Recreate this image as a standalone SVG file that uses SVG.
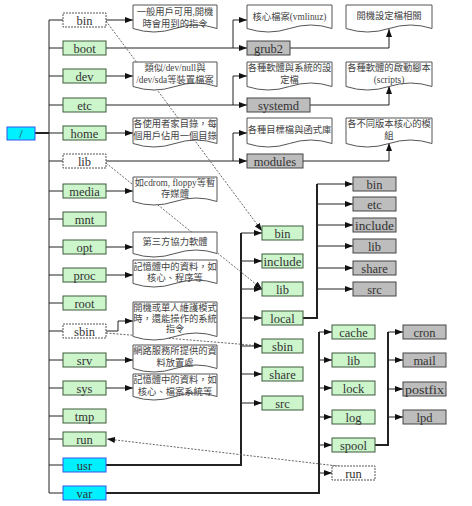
<svg xmlns="http://www.w3.org/2000/svg" width="472" height="506" viewBox="0 0 472 506">
<style>
.g{fill:#ccf5cc;stroke:#3d5a3d;stroke-width:1}
.gr{fill:#bdbdbd;stroke:#444;stroke-width:1}
.cy{fill:#00f0ff;stroke:#3355ee;stroke-width:1}
.dsh{fill:#fff;stroke:#555;stroke-width:1;stroke-dasharray:2 1}
.lbl{font-family:"Liberation Serif",serif;font-size:12.5px;fill:#333;text-anchor:middle}
.doc{fill:#fff;stroke:#555;stroke-width:1}
.dt{font-family:"Liberation Serif","Noto Sans CJK TC",serif;font-size:9.3px;fill:#444;text-anchor:middle}
.c{fill:none;stroke:#222;stroke-width:1}
.a{fill:none;stroke:#222;stroke-width:1;marker-end:url(#ah)}
.th{fill:none;stroke:#222;stroke-width:2}
.dot{fill:none;stroke:#555;stroke-width:0.9;stroke-dasharray:2 1.5;marker-end:url(#ah)}
</style>
<defs>
<marker id="ah" viewBox="0 0 8 6" refX="8" refY="3" markerWidth="8" markerHeight="6" markerUnits="userSpaceOnUse" orient="auto"><path d="M0,0L8,3L0,6z" fill="#111"/></marker>
</defs>
<rect width="472" height="506" fill="#fff"/>
<g id="connectors">
<path class="th" d="M35,133H49"/>
<path class="c" d="M49,20V493"/>
<path class="c" d="M49,20H63M49,48H63M49,76H63M49,105H63M49,133H63M49,161H63M49,191H63M49,219H63M49,247H63M49,275H63M49,303H63M49,331H63M49,360H63M49,388H63M49,416H63M49,439H63M49,465H63M49,493H63"/>
<path class="a" d="M106,20H133"/>
<path class="a" d="M106,76H133"/>
<path class="a" d="M106,133H133"/>
<path class="a" d="M106,191H133"/>
<path class="a" d="M106,247H133"/>
<path class="a" d="M106,275H133"/>
<path class="a" d="M106,331H118V321H133"/>
<path class="a" d="M106,360H133"/>
<path class="a" d="M106,388H133"/>
<path class="a" d="M106,48H247"/>
<path class="a" d="M233,48V20H247"/>
<path class="a" d="M290,48H389V29"/>
<path class="a" d="M106,105H247"/>
<path class="a" d="M233,105V76H247"/>
<path class="a" d="M310,105H389V86"/>
<path class="a" d="M106,161H247"/>
<path class="a" d="M233,161V133H247"/>
<path class="a" d="M303,161H389V143"/>
<path class="th" d="M106,465H241V233"/>
<path class="a" d="M241,233H262"/><path class="a" d="M241,261H262"/><path class="a" d="M241,289H262"/><path class="a" d="M241,318H262"/><path class="a" d="M241,346H262"/><path class="a" d="M241,374H262"/><path class="a" d="M241,403H262"/>
<path class="th" d="M303,318H317V184"/>
<path class="a" d="M317,184H353"/><path class="a" d="M317,204H353"/><path class="a" d="M317,225H353"/><path class="a" d="M317,246H353"/><path class="a" d="M317,268H353"/><path class="a" d="M317,289H353"/>
<path class="th" d="M106,493H319V332"/>
<path class="a" d="M319,332H332"/><path class="a" d="M319,360H332"/><path class="a" d="M319,388H332"/><path class="a" d="M319,417H332"/><path class="a" d="M319,445H332"/><path class="a" d="M319,473H332"/>
<path class="th" d="M375,445H388V332"/>
<path class="a" d="M388,332H403"/><path class="a" d="M388,360H403"/><path class="a" d="M388,389H403"/><path class="a" d="M388,417H403"/>
<path class="dot" d="M106,21L262,231"/>
<path class="dot" d="M106,163L262,289"/>
<path class="dot" d="M106,333L262,346"/>
<path class="dot" d="M346,467L107,439"/>
</g>
<g id="root"><rect class="cy" x="7" y="127" width="28" height="13"/><text class="lbl" x="21" y="138">/</text></g>
<g id="bin"><rect class="dsh" x="63" y="13" width="43" height="14"/><text class="lbl" x="84.5" y="24.5">bin</text></g>
<g id="boot"><rect class="g" x="63" y="41" width="43" height="14"/><text class="lbl" x="84.5" y="52.5">boot</text></g>
<g id="dev"><rect class="g" x="63" y="69" width="43" height="14"/><text class="lbl" x="84.5" y="80.5">dev</text></g>
<g id="etc"><rect class="g" x="63" y="98" width="43" height="14"/><text class="lbl" x="84.5" y="109.5">etc</text></g>
<g id="home"><rect class="g" x="63" y="126" width="43" height="14"/><text class="lbl" x="84.5" y="137.5">home</text></g>
<g id="lib"><rect class="dsh" x="63" y="154" width="43" height="14"/><text class="lbl" x="84.5" y="165.5">lib</text></g>
<g id="media"><rect class="g" x="63" y="184" width="43" height="14"/><text class="lbl" x="84.5" y="195.5">media</text></g>
<g id="mnt"><rect class="g" x="63" y="212" width="43" height="14"/><text class="lbl" x="84.5" y="223.5">mnt</text></g>
<g id="opt"><rect class="g" x="63" y="240" width="43" height="14"/><text class="lbl" x="84.5" y="251.5">opt</text></g>
<g id="proc"><rect class="g" x="63" y="268" width="43" height="14"/><text class="lbl" x="84.5" y="279.5">proc</text></g>
<g id="rootdir"><rect class="g" x="63" y="296" width="43" height="14"/><text class="lbl" x="84.5" y="307.5">root</text></g>
<g id="sbin"><rect class="dsh" x="63" y="324" width="43" height="14"/><text class="lbl" x="84.5" y="335.5">sbin</text></g>
<g id="srv"><rect class="g" x="63" y="353" width="43" height="14"/><text class="lbl" x="84.5" y="364.5">srv</text></g>
<g id="sys"><rect class="g" x="63" y="381" width="43" height="14"/><text class="lbl" x="84.5" y="392.5">sys</text></g>
<g id="tmp"><rect class="g" x="63" y="409" width="43" height="14"/><text class="lbl" x="84.5" y="420.5">tmp</text></g>
<g id="run"><rect class="g" x="63" y="432" width="43" height="14"/><text class="lbl" x="84.5" y="443.5">run</text></g>
<g id="usr"><rect class="cy" x="63" y="458" width="43" height="14"/><text class="lbl" x="84.5" y="469.5">usr</text></g>
<g id="var"><rect class="cy" x="63" y="486" width="43" height="14"/><text class="lbl" x="84.5" y="497.5">var</text></g>
<g id="grub2"><rect class="gr" x="247" y="41" width="43" height="14"/><text class="lbl" x="268.5" y="52.5">grub2</text></g>
<g id="systemd"><rect class="gr" x="247" y="98" width="63" height="14"/><text class="lbl" x="278.5" y="109.5">systemd</text></g>
<g id="modules"><rect class="gr" x="247" y="154" width="56" height="14"/><text class="lbl" x="275" y="165.5">modules</text></g>
<g id="usr-bin"><rect class="g" x="262" y="226" width="41" height="14"/><text class="lbl" x="282.5" y="237.5">bin</text></g>
<g id="usr-include"><rect class="g" x="262" y="254" width="41" height="14"/><text class="lbl" x="282.5" y="265.5" textLength="38" lengthAdjust="spacingAndGlyphs">include</text></g>
<g id="usr-lib"><rect class="g" x="262" y="282" width="41" height="14"/><text class="lbl" x="282.5" y="293.5">lib</text></g>
<g id="usr-local"><rect class="g" x="262" y="311" width="41" height="14"/><text class="lbl" x="282.5" y="322.5">local</text></g>
<g id="usr-sbin"><rect class="g" x="262" y="339" width="41" height="14"/><text class="lbl" x="282.5" y="350.5">sbin</text></g>
<g id="usr-share"><rect class="g" x="262" y="367" width="41" height="14"/><text class="lbl" x="282.5" y="378.5">share</text></g>
<g id="usr-src"><rect class="g" x="262" y="396" width="41" height="14"/><text class="lbl" x="282.5" y="407.5">src</text></g>
<g id="local-bin"><rect class="gr" x="353" y="177" width="43" height="14"/><text class="lbl" x="374.5" y="188.5">bin</text></g>
<g id="local-etc"><rect class="gr" x="353" y="197" width="43" height="14"/><text class="lbl" x="374.5" y="208.5">etc</text></g>
<g id="local-include"><rect class="gr" x="353" y="218" width="43" height="14"/><text class="lbl" x="374.5" y="229.5" textLength="39" lengthAdjust="spacingAndGlyphs">include</text></g>
<g id="local-lib"><rect class="gr" x="353" y="239" width="43" height="14"/><text class="lbl" x="374.5" y="250.5">lib</text></g>
<g id="local-share"><rect class="gr" x="353" y="261" width="43" height="14"/><text class="lbl" x="374.5" y="272.5">share</text></g>
<g id="local-src"><rect class="gr" x="353" y="282" width="43" height="14"/><text class="lbl" x="374.5" y="293.5">src</text></g>
<g id="var-cache"><rect class="g" x="332" y="325" width="43" height="14"/><text class="lbl" x="353.5" y="336.5">cache</text></g>
<g id="var-lib"><rect class="g" x="332" y="353" width="43" height="14"/><text class="lbl" x="353.5" y="364.5">lib</text></g>
<g id="var-lock"><rect class="g" x="332" y="381" width="43" height="14"/><text class="lbl" x="353.5" y="392.5">lock</text></g>
<g id="var-log"><rect class="g" x="332" y="410" width="43" height="14"/><text class="lbl" x="353.5" y="421.5">log</text></g>
<g id="var-spool"><rect class="g" x="332" y="438" width="43" height="14"/><text class="lbl" x="353.5" y="449.5">spool</text></g>
<g id="var-run"><rect class="dsh" x="332" y="466" width="43" height="14"/><text class="lbl" x="353.5" y="477.5">run</text></g>
<g id="spool-cron"><rect class="gr" x="403" y="325" width="43" height="14"/><text class="lbl" x="424.5" y="336.5">cron</text></g>
<g id="spool-mail"><rect class="gr" x="403" y="353" width="43" height="14"/><text class="lbl" x="424.5" y="364.5">mail</text></g>
<g id="spool-postfix"><rect class="gr" x="403" y="382" width="43" height="14"/><text class="lbl" x="424.5" y="393.5" textLength="39" lengthAdjust="spacingAndGlyphs">postfix</text></g>
<g id="spool-lpd"><rect class="gr" x="403" y="410" width="43" height="14"/><text class="lbl" x="424.5" y="421.5">lpd</text></g>
<g id="doc-bin"><path class="doc" d="M133,5H217V28.5Q196,21.5 175,28.5T133,28.5Z"/><text class="dt" x="175" y="15">一般用戶可用,開機</text><text class="dt" x="175" y="27">時會用到的指令</text></g>
<g id="doc-dev"><path class="doc" d="M133,62H217V86.5Q196,79.5 175,86.5T133,86.5Z"/><text class="dt" x="175" y="71">類似/dev/null與</text><text class="dt" x="175" y="83">/dev/sda等裝置檔案</text></g>
<g id="doc-home"><path class="doc" d="M133,118H217V143.5Q196,136.5 175,143.5T133,143.5Z"/><text class="dt" x="175" y="127">各使用者家目錄，每</text><text class="dt" x="175" y="139">個用戶佔用一個目錄</text></g>
<g id="doc-media"><path class="doc" d="M133,177H217V201.5Q196,194.5 175,201.5T133,201.5Z"/><text class="dt" x="175" y="186">如cdrom, floppy等暫</text><text class="dt" x="175" y="197">存媒體</text></g>
<g id="doc-opt"><path class="doc" d="M133,232H217V253.5Q196,246.5 175,253.5T133,253.5Z"/><text class="dt" x="175" y="245">第三方協力軟體</text></g>
<g id="doc-proc"><path class="doc" d="M133,260H217V283.5Q196,276.5 175,283.5T133,283.5Z"/><text class="dt" x="175" y="270">記憶體中的資料，如</text><text class="dt" x="175" y="281">核心、程序等</text></g>
<g id="doc-sbin"><path class="doc" d="M133,302H217V336.5Q196,329.5 175,336.5T133,336.5Z"/><text class="dt" x="175" y="311">開機或單人維護模式</text><text class="dt" x="175" y="321.5">時，還能操作的系統</text><text class="dt" x="175" y="332">指令</text></g>
<g id="doc-srv"><path class="doc" d="M133,345H217V368.5Q196,361.5 175,368.5T133,368.5Z"/><text class="dt" x="175" y="354">網路服務所提供的資</text><text class="dt" x="175" y="366">料放置處</text></g>
<g id="doc-sys"><path class="doc" d="M133,374H217V396.5Q196,389.5 175,396.5T133,396.5Z"/><text class="dt" x="175" y="383">記憶體中的資料，如</text><text class="dt" x="175" y="395">核心、檔案系統等</text></g>
<g id="doc-vmlinuz"><path class="doc" d="M247,5H332V28.5Q310.75,21.5 289.5,28.5T247,28.5Z"/><text class="dt" x="289.5" y="20">核心檔案(vmlinuz)</text></g>
<g id="doc-etc"><path class="doc" d="M247,62H332V86.5Q310.75,79.5 289.5,86.5T247,86.5Z"/><text class="dt" x="289.5" y="71">各種軟體與系統的設</text><text class="dt" x="289.5" y="83">定檔</text></g>
<g id="doc-libs"><path class="doc" d="M247,118H332V143.5Q310.75,136.5 289.5,143.5T247,143.5Z"/><text class="dt" x="289.5" y="133">各種目標檔與函式庫</text></g>
<g id="doc-bootcfg"><path class="doc" d="M346,5H432V28.5Q410.5,21.5 389,28.5T346,28.5Z"/><text class="dt" x="389" y="19">開機設定檔相關</text></g>
<g id="doc-scripts"><path class="doc" d="M346,62H432V86.5Q410.5,79.5 389,86.5T346,86.5Z"/><text class="dt" x="389" y="71">各種軟體的啟動腳本</text><text class="dt" x="389" y="83">(scripts)</text></g>
<g id="doc-modules"><path class="doc" d="M346,118H432V143.5Q410.5,136.5 389,143.5T346,143.5Z"/><text class="dt" x="389" y="127">各不同版本核心的模</text><text class="dt" x="389" y="139">組</text></g>
</svg>
